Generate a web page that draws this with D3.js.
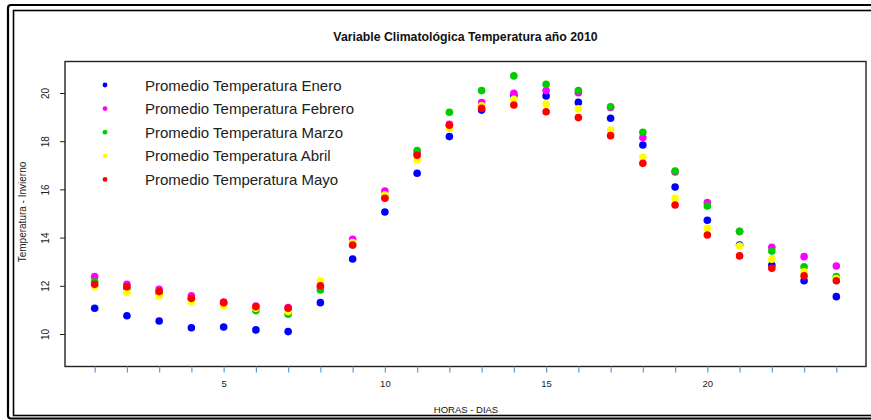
<!DOCTYPE html>
<html><head><meta charset="utf-8">
<script src="https://cdn.jsdelivr.net/npm/d3@7/dist/d3.min.js"></script>
<style>html,body{margin:0;padding:0;background:#fff;}svg{display:block;}</style>
</head><body>
<script>
const hours = d3.range(1, 25);
const enero   = [11.07,10.76,10.54,10.26,10.29,10.17,10.10,11.30,13.11,15.06,16.67,18.19,19.29,19.90,19.88,19.61,18.95,17.84,16.10,14.72,13.69,12.86,12.21,11.55];
const febrero = [12.38,12.06,11.85,11.59,11.33,11.16,11.10,11.95,13.93,15.93,17.50,18.70,19.60,19.99,20.10,20.01,19.40,18.15,16.72,15.45,14.25,13.60,13.21,12.82];
const marzo   = [12.17,11.90,11.69,11.44,11.27,10.97,10.82,11.83,13.69,15.70,17.61,19.20,20.10,20.71,20.36,20.10,19.43,18.37,16.76,15.31,14.26,13.44,12.79,12.38];
const abril   = [11.96,11.73,11.58,11.34,11.17,11.07,10.93,12.20,13.79,15.77,17.22,18.53,19.47,19.74,19.54,19.34,18.46,17.33,15.63,14.39,13.65,13.10,12.58,12.30];
const mayo    = [12.06,11.96,11.76,11.48,11.30,11.13,11.07,12.00,13.69,15.63,17.42,18.66,19.37,19.50,19.22,18.98,18.23,17.08,15.35,14.11,13.24,12.73,12.41,12.21];
const seriesNames = ["Promedio Temperatura Enero","Promedio Temperatura Febrero","Promedio Temperatura Marzo","Promedio Temperatura Abril","Promedio Temperatura Mayo"];
const seriesColors = ["#0000ff","#ff00ff","#00cc00","#ffff00","#ff0000"];
const yTicks = [10,12,14,16,18,20];
const xLabelTicks = [5,10,15,20];
const title = "Variable Climatológica Temperatura año 2010";
const xTitle = "HORAS - DIAS";
const yTitle = "Temperatura - Invierno";

const seriesValues = [enero, febrero, marzo, abril, mayo];
const W = 871, H = 420;
const svg = d3.select("body").append("svg").attr("width", W).attr("height", H);
const font = "'Liberation Sans', Arial, sans-serif";

// outer double frame
svg.append("rect").attr("x", 8).attr("y", 5).attr("width", 900).attr("height", 413.5)
  .attr("rx", 3).attr("fill", "none").attr("stroke", "#000").attr("stroke-width", 2.2);
svg.append("rect").attr("x", 13.5).attr("y", 10.5).attr("width", 900).attr("height", 405)
  .attr("fill", "none").attr("stroke", "#000").attr("stroke-width", 1.6);

const x = d3.scaleLinear().domain([0.08, 24.92]).range([65, 866]);
const y = d3.scaleLinear().domain([10, 20]).range([334, 93]);
const plotTop = 61.5, plotBottom = 366.5;

// plot box
svg.append("rect").attr("x", x.range()[0]).attr("y", plotTop)
  .attr("width", x.range()[1] - x.range()[0]).attr("height", plotBottom - plotTop)
  .attr("fill", "none").attr("stroke", "#222").attr("stroke-width", 1.4);

// x axis
const xAxis = d3.axisBottom(x).tickValues(hours).tickSize(6)
  .tickFormat(d => xLabelTicks.includes(d) ? d : "");
const gx = svg.append("g").attr("transform", `translate(0,${plotBottom})`).call(xAxis);
gx.select(".domain").remove();
gx.selectAll(".tick line").attr("stroke", "#5b9bd5").attr("stroke-width", 1.2);
gx.selectAll(".tick text").attr("font-family", font).attr("font-size", 9.5)
  .attr("fill", "#222").attr("y", 14);

// y axis
const yAxis = d3.axisLeft(y).tickValues(yTicks).tickSize(5);
const gy = svg.append("g").attr("transform", `translate(${x.range()[0]},0)`).call(yAxis);
gy.select(".domain").remove();
gy.selectAll(".tick line").attr("stroke", "#222");
gy.selectAll(".tick text").attr("font-family", font).attr("font-size", 10).attr("fill", "#222")
  .attr("x", 0).attr("dy", 0).attr("text-anchor", "middle")
  .attr("transform", "translate(-20,0) rotate(-90)").attr("dominant-baseline", "central");

// titles
svg.append("text").attr("x", 465.5).attr("y", 41).attr("text-anchor", "middle")
  .attr("font-family", font).attr("font-weight", "bold").attr("font-size", 12.3).attr("fill", "#111").text(title);
svg.append("text").attr("x", 466).attr("y", 413).attr("text-anchor", "middle")
  .attr("font-family", font).attr("font-size", 9.5).attr("fill", "#111").text(xTitle);
svg.append("text").attr("transform", "translate(26,212) rotate(-90)").attr("text-anchor", "middle")
  .attr("font-family", font).attr("font-size", 10).attr("fill", "#222").text(yTitle);

// points
seriesValues.forEach((vals, i) => {
  svg.append("g").selectAll("circle").data(vals).join("circle")
    .attr("cx", (d, j) => x(hours[j])).attr("cy", d => y(d)).attr("r", 3.8)
    .attr("fill", seriesColors[i]);
});

// legend
const lg = svg.append("g");
seriesNames.forEach((n, i) => {
  const yy = 85 + i * 23.6;
  lg.append("circle").attr("cx", 105).attr("cy", yy).attr("r", 2.4).attr("fill", seriesColors[i]);
  lg.append("text").attr("x", 145).attr("y", yy).attr("dominant-baseline", "central")
    .attr("font-family", font).attr("font-size", 15).attr("fill", "#222").text(n);
});
</script>
</body></html>
